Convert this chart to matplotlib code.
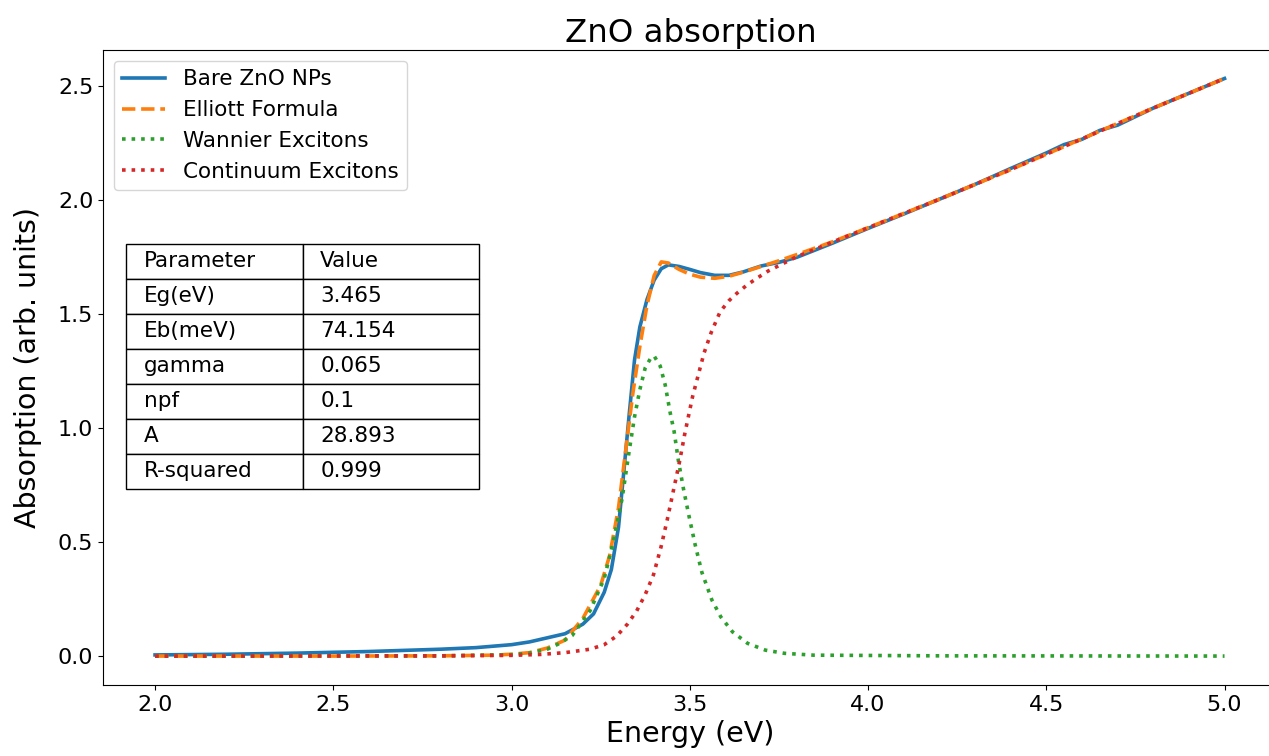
import matplotlib
matplotlib.use('Agg')
import matplotlib.pyplot as plt

# measured spectrum (Bare ZnO NPs)
e_bare = [2.0, 2.2, 2.4, 2.6, 2.8, 2.9, 3.0, 3.05, 3.1, 3.15, 3.2, 3.23, 3.26, 3.28, 3.30,
          3.315, 3.33, 3.345, 3.36, 3.38, 3.40, 3.42, 3.44, 3.47, 3.50, 3.53, 3.57, 3.61,
          3.65, 3.70, 3.75, 3.80, 3.9, 4.0, 4.1, 4.2, 4.3, 4.4, 4.5, 4.55, 4.6, 4.65, 4.7,
          4.8, 4.9, 5.0]
a_bare = [0.005, 0.008, 0.013, 0.02, 0.03, 0.037, 0.05, 0.062, 0.08, 0.098, 0.14, 0.185,
          0.28, 0.38, 0.565, 0.81, 1.06, 1.30, 1.445, 1.565, 1.65, 1.70, 1.717, 1.71, 1.697,
          1.683, 1.671, 1.671, 1.686, 1.712, 1.728, 1.75, 1.812, 1.877, 1.94, 2.005, 2.07,
          2.14, 2.208, 2.245, 2.268, 2.307, 2.33, 2.405, 2.47, 2.535]

# Elliott fit
e_fit = [2.0, 2.5, 2.8, 2.95, 3.0, 3.05, 3.1, 3.15, 3.2, 3.25, 3.275, 3.30, 3.32, 3.34,
         3.36, 3.38, 3.40, 3.42, 3.44, 3.47, 3.50, 3.53, 3.57, 3.61, 3.65, 3.70, 3.75,
         3.80, 3.9, 4.0, 4.2, 4.4, 4.6, 4.8, 5.0]
a_fit = [0.0, 0.0, 0.001, 0.004, 0.008, 0.015, 0.035, 0.07, 0.165, 0.31, 0.44, 0.65, 0.90,
         1.15, 1.36, 1.54, 1.67, 1.73, 1.725, 1.697, 1.676, 1.663, 1.658, 1.667, 1.685,
         1.71, 1.735, 1.762, 1.818, 1.88, 2.005, 2.135, 2.27, 2.405, 2.535]

# Wannier excitons
e_wan = [2.0, 2.8, 3.0, 3.05, 3.1, 3.13, 3.17, 3.22, 3.26, 3.285, 3.31, 3.33, 3.345, 3.36,
         3.375, 3.39, 3.40, 3.417, 3.431, 3.445, 3.456, 3.468, 3.482, 3.498, 3.515, 3.534,
         3.562, 3.587, 3.62, 3.662, 3.712, 3.766, 3.847, 4.2, 5.0]
a_wan = [0.0, 0.001, 0.006, 0.013, 0.03, 0.052, 0.09, 0.198, 0.34, 0.50, 0.69, 0.90, 1.05,
         1.17, 1.265, 1.307, 1.317, 1.273, 1.19, 1.068, 0.986, 0.858, 0.736, 0.613, 0.489,
         0.367, 0.246, 0.172, 0.106, 0.056, 0.026, 0.012, 0.004, 0.001, 0.0]

# continuum excitons
e_con = [2.0, 2.8, 3.0, 3.08, 3.15, 3.22, 3.26, 3.295, 3.325, 3.351, 3.375, 3.398, 3.419,
         3.437, 3.454, 3.471, 3.486, 3.508, 3.54, 3.56, 3.585, 3.61, 3.632, 3.66, 3.688,
         3.72, 3.753, 3.8, 3.9, 4.0, 4.2, 4.4, 4.6, 4.8, 5.0]
a_con = [0.0, 0.001, 0.003, 0.007, 0.015, 0.03, 0.05, 0.088, 0.14, 0.198, 0.27, 0.356,
         0.477, 0.60, 0.726, 0.851, 0.976, 1.14, 1.33, 1.42, 1.511, 1.56, 1.592, 1.628,
         1.658, 1.69, 1.716, 1.753, 1.817, 1.88, 2.005, 2.135, 2.27, 2.405, 2.535]

# fit parameters
params = ['Eg(eV)', 'Eb(meV)', 'gamma', 'npf', 'A', 'R-squared']
values = ['3.465', '74.154', '0.065', '0.1', '28.893', '0.999']

fig = plt.figure(figsize=(12.69, 7.56), dpi=100)
# right edge of the axes falls just past the figure edge (cropped in the original)
ax = fig.add_axes([103 / 1269, 71 / 756, 1175 / 1269, 635 / 756])

ax.plot(e_bare, a_bare, color='tab:blue', lw=2.6, label='Bare ZnO NPs')
ax.plot(e_fit, a_fit, color='tab:orange', lw=2.6, linestyle='--', label='Elliott Formula')
ax.plot(e_wan, a_wan, color='tab:green', lw=2.6, linestyle=':', label='Wannier Excitons')
ax.plot(e_con, a_con, color='tab:red', lw=2.6, linestyle=':', label='Continuum Excitons')

ax.set_xlim(1.854, 5.15)
ax.set_ylim(-0.127, 2.66)
ax.set_xlabel('Energy (eV)', fontsize=20.5)
ax.set_ylabel('Absorption (arb. units)', fontsize=20.5, labelpad=11)
ax.set_title('ZnO absorption', fontsize=23.3)
ax.tick_params(labelsize=16)
ax.legend(loc='upper left', fontsize=15.5)

rows = [['Parameter', 'Value']] + [[p, v] for p, v in zip(params, values)]
tbl = ax.table(cellText=rows, cellLoc='left',
               bbox=[23 / 1175, 0.3087, 353 / 1175, 0.386])
tbl.auto_set_font_size(False)
tbl.set_fontsize(15.5)

fig.savefig('out.png', dpi=100)
